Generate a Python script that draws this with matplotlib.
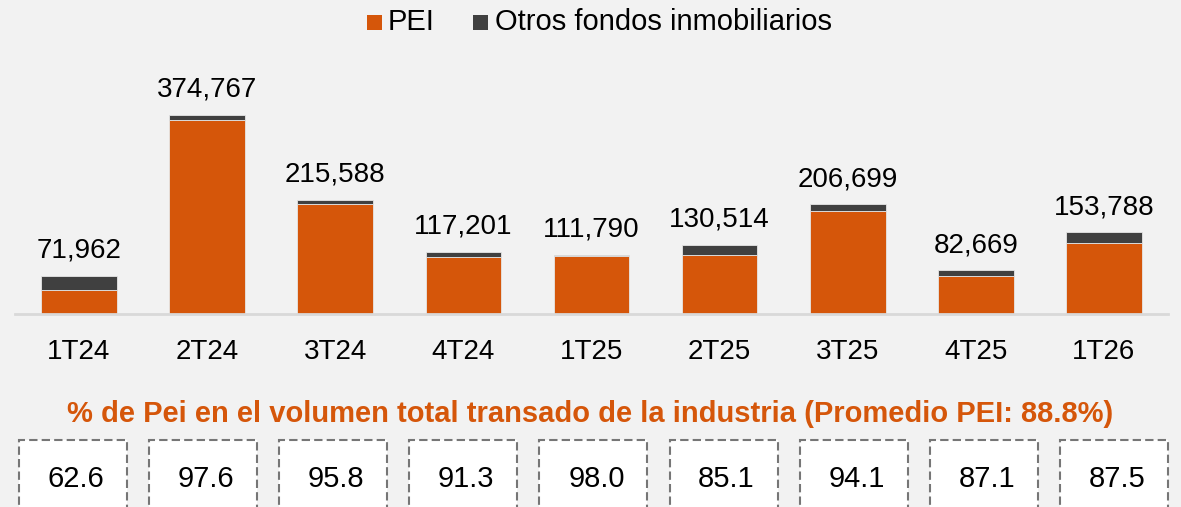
import matplotlib
matplotlib.use("Agg")
import matplotlib.pyplot as plt
from matplotlib.patches import Rectangle

plt.rcParams['font.family'] = ['Liberation Sans', 'DejaVu Sans']

categories = ["1T24", "2T24", "3T24", "4T24", "1T25", "2T25", "3T25", "4T25", "1T26"]
totals = [71962, 374767, 215588, 117201, 111790, 130514, 206699, 82669, 153788]
pei_share = [62.6, 97.6, 95.8, 91.3, 98.0, 85.1, 94.1, 87.1, 87.5]
pei = [45048, 365773, 206533, 107005, 109554, 111067, 194504, 72005, 134565]
otros = [26914, 8994, 9055, 10196, 2236, 19447, 12195, 10664, 19223]
series_names = ["PEI", "Otros fondos inmobiliarios"]
promedio = 88.8

ORANGE = "#D5560A"
DARK = "#404040"
BG = "#F2F2F2"

W, H = 1181, 507
fig = plt.figure(figsize=(W / 100, H / 100), dpi=100, facecolor=BG)
ax = fig.add_axes([15 / W, (H - 314) / H, (1168 - 15) / W, (314 - 60) / H])
ax.set_facecolor(BG)

x = list(range(len(categories)))
ax.bar(x, pei, width=0.59, color=ORANGE, edgecolor="#E6E6E6", linewidth=0.6, zorder=2)
ax.bar(x, otros, width=0.59, bottom=pei, color=DARK, edgecolor="#E6E6E6", linewidth=0.6, zorder=2)

ax.set_xlim(-0.5, len(categories) - 0.5)
ax.set_ylim(0, 374767 * 254 / 199)
for s in ["top", "right", "left"]:
    ax.spines[s].set_visible(False)
ax.spines["bottom"].set_color("#D9D9D9")
ax.spines["bottom"].set_linewidth(2)
ax.set_yticks([])
ax.set_xticks([])

for xi, t in zip(x, totals):
    ax.annotate(f"{t:,}", (xi, t), xytext=(0, 13), textcoords="offset points",
                ha="center", va="baseline", fontsize=20, color="black")

for xi, c in zip(x, categories):
    ax.annotate(c, (xi, 0), xycoords=("data", "axes fraction"), xytext=(0, -32.4),
                textcoords="offset points", ha="center", va="baseline", fontsize=20)

# Legend (manual)
legend_items = [(series_names[0], ORANGE, 367, 388), (series_names[1], DARK, 473, 495)]
for name, col, sx, tx in legend_items:
    fig.add_artist(Rectangle((sx / W, (H - 30) / H), 15 / W, 15 / H,
                             transform=fig.transFigure, facecolor=col, edgecolor="none"))
    fig.text(tx / W, (H - 30) / H, name, ha="left", va="baseline", fontsize=21, color="black")

fig.text(590 / W, (H - 422) / H,
         f"% de Pei en el volumen total transado de la industria (Promedio PEI: {promedio}%)",
         ha="center", va="baseline", fontsize=21, fontweight="bold", color=ORANGE)

for i, p in enumerate(pei_share):
    x0 = 19 + 130.1 * i
    rect = Rectangle((x0 / W, (H - 530) / H), 108 / W, 90 / H, transform=fig.transFigure,
                     facecolor="white", edgecolor="#767676", linewidth=1.5,
                     linestyle=(0, (4, 2)))
    fig.add_artist(rect)
    fig.text((x0 + 57) / W, (H - 487) / H, f"{p:.1f}", ha="center", va="baseline",
             fontsize=21, color="black")

fig.savefig("out.png", dpi=100, facecolor=BG)
